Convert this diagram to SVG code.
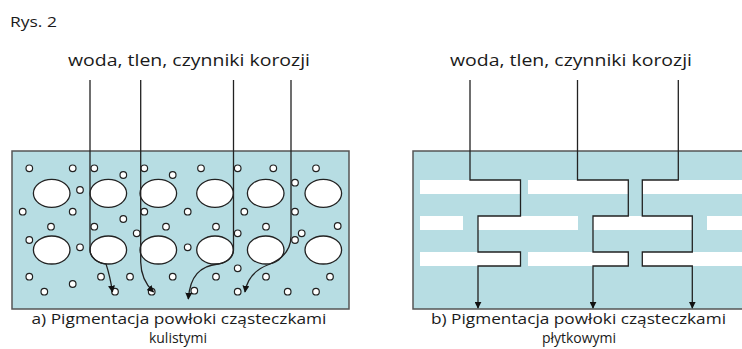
<svg xmlns="http://www.w3.org/2000/svg" width="742" height="349" viewBox="0 0 742 349">
<defs>
<style>
.t{font-family:"Open Sans","Liberation Sans",sans-serif;fill:#1a1a1a}
.panel{fill:#b7dde3;stroke:#555;stroke-width:1.5}
.big{fill:#fff;stroke:#222;stroke-width:1.3}
.sm{fill:#fff;stroke:#222;stroke-width:1.2}
.bar{fill:#fff}
.ln{fill:none;stroke:#222;stroke-width:1.3}
</style>
<marker id="ah" viewBox="0 0 10 10" refX="9" refY="5" markerWidth="7" markerHeight="7" markerUnits="userSpaceOnUse" orient="auto">
<path d="M0,0 L10,5 L0,10 Z" fill="#111"/>
</marker>
</defs>
<rect width="742" height="349" fill="#fff"/>
<text class="t" x="10" y="27" font-size="14" textLength="47" lengthAdjust="spacingAndGlyphs">Rys. 2</text>

<g id="panel-a">
<rect class="panel" x="12" y="151" width="337" height="158"/>
<g id="ellipses-a">
<ellipse class="big" cx="51.7" cy="193.3" rx="18.3" ry="14"/>
<ellipse class="big" cx="108.3" cy="193.3" rx="18.3" ry="14"/>
<ellipse class="big" cx="158.3" cy="193.3" rx="18.3" ry="14"/>
<ellipse class="big" cx="215" cy="193.3" rx="18.3" ry="14"/>
<ellipse class="big" cx="265.7" cy="193.3" rx="18.3" ry="14"/>
<ellipse class="big" cx="323.3" cy="193.3" rx="18.3" ry="14"/>
<ellipse class="big" cx="51.7" cy="250" rx="18.3" ry="14"/>
<ellipse class="big" cx="108.3" cy="250" rx="18.3" ry="14"/>
<ellipse class="big" cx="158.3" cy="250" rx="18.3" ry="14"/>
<ellipse class="big" cx="215" cy="250" rx="18.3" ry="14"/>
<ellipse class="big" cx="265.7" cy="250" rx="18.3" ry="14"/>
<ellipse class="big" cx="323.3" cy="250" rx="18.3" ry="14"/>
</g>
<g id="dots-a">
<circle class="sm" cx="29.3" cy="168.3" r="3.3"/>
<circle class="sm" cx="72.7" cy="168.3" r="3.3"/>
<circle class="sm" cx="94.3" cy="168.3" r="3.3"/>
<circle class="sm" cx="123.3" cy="175" r="3.3"/>
<circle class="sm" cx="144.3" cy="168.3" r="3.3"/>
<circle class="sm" cx="172.7" cy="175" r="3.3"/>
<circle class="sm" cx="201" cy="168.3" r="3.3"/>
<circle class="sm" cx="237.7" cy="168.3" r="3.3"/>
<circle class="sm" cx="273.3" cy="168.3" r="3.3"/>
<circle class="sm" cx="316" cy="168.3" r="3.3"/>
<circle class="sm" cx="80" cy="190" r="3.3"/>
<circle class="sm" cx="295" cy="182.7" r="3.3"/>
<circle class="sm" cx="22.7" cy="211.7" r="3.3"/>
<circle class="sm" cx="72.7" cy="211.7" r="3.3"/>
<circle class="sm" cx="144.3" cy="211.7" r="3.3"/>
<circle class="sm" cx="187.7" cy="211.7" r="3.3"/>
<circle class="sm" cx="244.3" cy="211.7" r="3.3"/>
<circle class="sm" cx="295" cy="211.7" r="3.3"/>
<circle class="sm" cx="123.3" cy="219" r="3.3"/>
<circle class="sm" cx="51" cy="226.7" r="3.3"/>
<circle class="sm" cx="94.3" cy="226.7" r="3.3"/>
<circle class="sm" cx="166" cy="226.7" r="3.3"/>
<circle class="sm" cx="216" cy="226.7" r="3.3"/>
<circle class="sm" cx="266" cy="226.7" r="3.3"/>
<circle class="sm" cx="337.7" cy="226" r="3.3"/>
<circle class="sm" cx="136.7" cy="233.3" r="3.3"/>
<circle class="sm" cx="237.7" cy="233.3" r="3.3"/>
<circle class="sm" cx="301.7" cy="233.3" r="3.3"/>
<circle class="sm" cx="29.3" cy="240" r="3.3"/>
<circle class="sm" cx="295" cy="240" r="3.3"/>
<circle class="sm" cx="80" cy="247.3" r="3.3"/>
<circle class="sm" cx="187.7" cy="247.3" r="3.3"/>
<circle class="sm" cx="237.7" cy="268.3" r="3.3"/>
<circle class="sm" cx="29.3" cy="276.7" r="3.3"/>
<circle class="sm" cx="101" cy="276.7" r="3.3"/>
<circle class="sm" cx="130" cy="276.7" r="3.3"/>
<circle class="sm" cx="172.7" cy="276.7" r="3.3"/>
<circle class="sm" cx="216" cy="276.7" r="3.3"/>
<circle class="sm" cx="266" cy="276.7" r="3.3"/>
<circle class="sm" cx="330" cy="276.7" r="3.3"/>
<circle class="sm" cx="72.7" cy="284" r="3.3"/>
<circle class="sm" cx="44.3" cy="291.7" r="3.3"/>
<circle class="sm" cx="115" cy="291.7" r="3.3"/>
<circle class="sm" cx="151.7" cy="291.7" r="3.3"/>
<circle class="sm" cx="194.3" cy="290.7" r="3.3"/>
<circle class="sm" cx="237.7" cy="291.7" r="3.3"/>
<circle class="sm" cx="287.7" cy="291.7" r="3.3"/>
<circle class="sm" cx="316" cy="291.7" r="3.3"/>
</g>
</g>

<g id="panel-b">
<path class="panel" d="M742,151 H413 V309 H742"/>
<g id="bars-b">
<rect class="bar" x="420" y="180" width="100" height="14"/>
<rect class="bar" x="528" y="180" width="100" height="14"/>
<rect class="bar" x="642" y="180" width="100" height="14"/>
<rect class="bar" x="420" y="216" width="43" height="14"/>
<rect class="bar" x="478" y="216" width="100" height="14"/>
<rect class="bar" x="593" y="216" width="99" height="14"/>
<rect class="bar" x="707" y="216" width="35" height="14"/>
<rect class="bar" x="420" y="252" width="100" height="14"/>
<rect class="bar" x="528" y="252" width="100" height="14"/>
<rect class="bar" x="642" y="252" width="100" height="14"/>
</g>
</g>

<g id="label-a">
<text class="t" x="189" y="66" font-size="17" text-anchor="middle" textLength="242" lengthAdjust="spacingAndGlyphs">woda, tlen, czynniki korozji</text>
<text class="t" x="179" y="324" font-size="14" text-anchor="middle" textLength="295" lengthAdjust="spacingAndGlyphs">a) Pigmentacja powłoki cząsteczkami</text>
<text class="t" x="178" y="343" font-size="14" text-anchor="middle">kulistymi</text>
</g>
<g id="label-b">
<text class="t" x="571" y="66" font-size="17" text-anchor="middle" textLength="242" lengthAdjust="spacingAndGlyphs">woda, tlen, czynniki korozji</text>
<text class="t" x="578.5" y="324" font-size="14" text-anchor="middle" textLength="295" lengthAdjust="spacingAndGlyphs">b) Pigmentacja powłoki cząsteczkami</text>
<text class="t" x="579" y="343" font-size="14" text-anchor="middle">płytkowymi</text>
</g>

<g id="connectors">
<path class="ln" marker-end="url(#ah)" d="M90,80 V250 A18.3,14 0 0 0 106,263.9 Q110,276 112.5,292"/>
<path class="ln" marker-end="url(#ah)" d="M140.7,80 V262 Q141,280 153.5,292"/>
<path class="ln" marker-end="url(#ah)" d="M233.5,80 V250 A18.3,14 0 0 1 218,264 C200,266 190,276 188.3,299"/>
<path class="ln" marker-end="url(#ah)" d="M291,80 V236 Q291,255 270,264 Q248,272 245,292"/>
<path class="ln" marker-end="url(#ah)" d="M470,80 V180 H520.5 V216 H478 V252 H520.5 V266 H478 V308"/>
<path class="ln" marker-end="url(#ah)" d="M577.5,80 V180 H628.3 V216 H593 V252 H628.3 V266 H593 V308"/>
<path class="ln" marker-end="url(#ah)" d="M678.3,80 V180 H642.3 V216 H692.3 V252 H642.3 V266 H692.3 V308"/>
</g>
</svg>
